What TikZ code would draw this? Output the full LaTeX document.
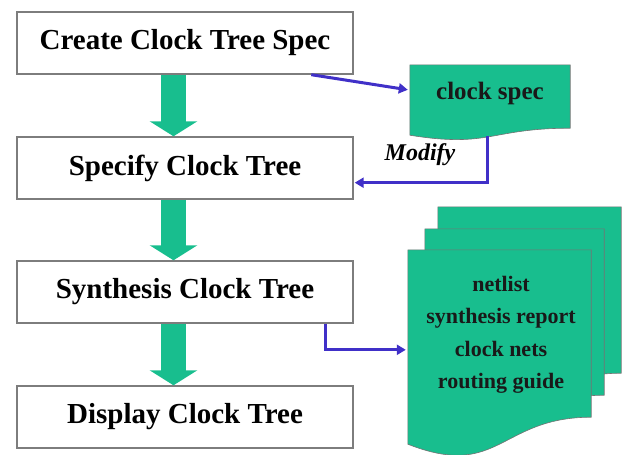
\documentclass[tikz,border=0pt]{standalone}
\usepackage{fontspec}
\setmainfont{Liberation Serif}
\usetikzlibrary{arrows.meta,calc}
\definecolor{docgreen}{RGB}{24,190,142}
\definecolor{flowblue}{RGB}{64,48,200}
\definecolor{boxgray}{RGB}{125,125,125}

% document outline: flat top, wavy bottom edge
% #1 frame node, #2 depth of the wave control, #3 drop of the lower left corner
\newcommand\docoutline[3]{(#1.north west) -- (#1.north east) -- (#1.south east)
  .. controls (#1.south) and ($(#1.south)+(0,#2)$) .. ($(#1.south west)+(0,#3)$) -- cycle}

\begin{document}
\begin{tikzpicture}[x=1pt,y=-1pt,
  stepbox/.style={draw=boxgray, line width=1.4pt, fill=white, minimum width=336pt,
    minimum height=62pt, inner sep=0pt, font=\fontsize{29}{32}\selectfont\bfseries},
  flowarrow/.style={draw=docgreen, line width=25pt, -{Triangle[width=47pt,length=15pt]}},
  link/.style={draw=flowblue, line width=3pt, -{Triangle[width=10pt,length=9pt]}},
  docframe/.style={inner sep=0pt, minimum width=#1},
  docshape/.style={fill=docgreen, draw=black!55, line width=0.6pt},
  doctext/.style={font=\fontsize{22}{32.5}\selectfont\bfseries, align=center, text=black!90}]
\useasboundingbox (0,0) rectangle (625,455);

% flow steps
\node[stepbox] (b1) at (185,43)  {Create Clock Tree Spec};
\node[stepbox] (b2) at (185,168) {Specify Clock Tree};
\node[stepbox] (b3) at (185,292) {Synthesis Clock Tree};
\node[stepbox] (b4) at (185,417) {Display Clock Tree};

% green step arrows
\foreach \a/\b in {b1/b2, b2/b3, b3/b4}
  \draw[flowarrow] ($(\a.south)+(-11.5,0)$) -- ($(\b.north)+(-11.5,0)$);

% clock spec document
\node[docframe=160pt, minimum height=63pt] (spec) at (490,96.5) {};
\path[docshape] \docoutline{spec}{20}{7};
\node[font=\fontsize{25}{28}\selectfont\bfseries, text=black!90] (spectext) at (490,93) {clock spec};

% stack of output documents
\node[docframe=183pt, minimum height=166pt] (d3) at (529.5,290) {};
\node[docframe=179pt, minimum height=166pt] (d2) at (514.5,312) {};
\node[docframe=183pt, minimum height=167pt] (d1) at (499.5,333.5) {};
\path[docshape] \docoutline{d3}{63}{27};
\path[docshape] \docoutline{d2}{63}{27};
\path[docshape] \docoutline{d1}{63}{27};
\node[doctext] (outtext) at (501,335) {netlist\\synthesis report\\clock nets\\routing guide};

% blue connectors
\draw[link] ($(b1.south west)+(295,0)$) -- ($(spec.north west)+(-2,25)$);
\draw[link] ($(spec.south west)+(78,8)$) |- ($(b2.south east)+(1,-17)$);
\node[font=\fontsize{24}{26}\selectfont\bfseries\itshape] (modify) at (420,155) {Modify};
\draw[link] ($(b3.south east)+(-28,0)$) |- ($(d1.north west)+(-2,100)$);
\end{tikzpicture}
\end{document}
